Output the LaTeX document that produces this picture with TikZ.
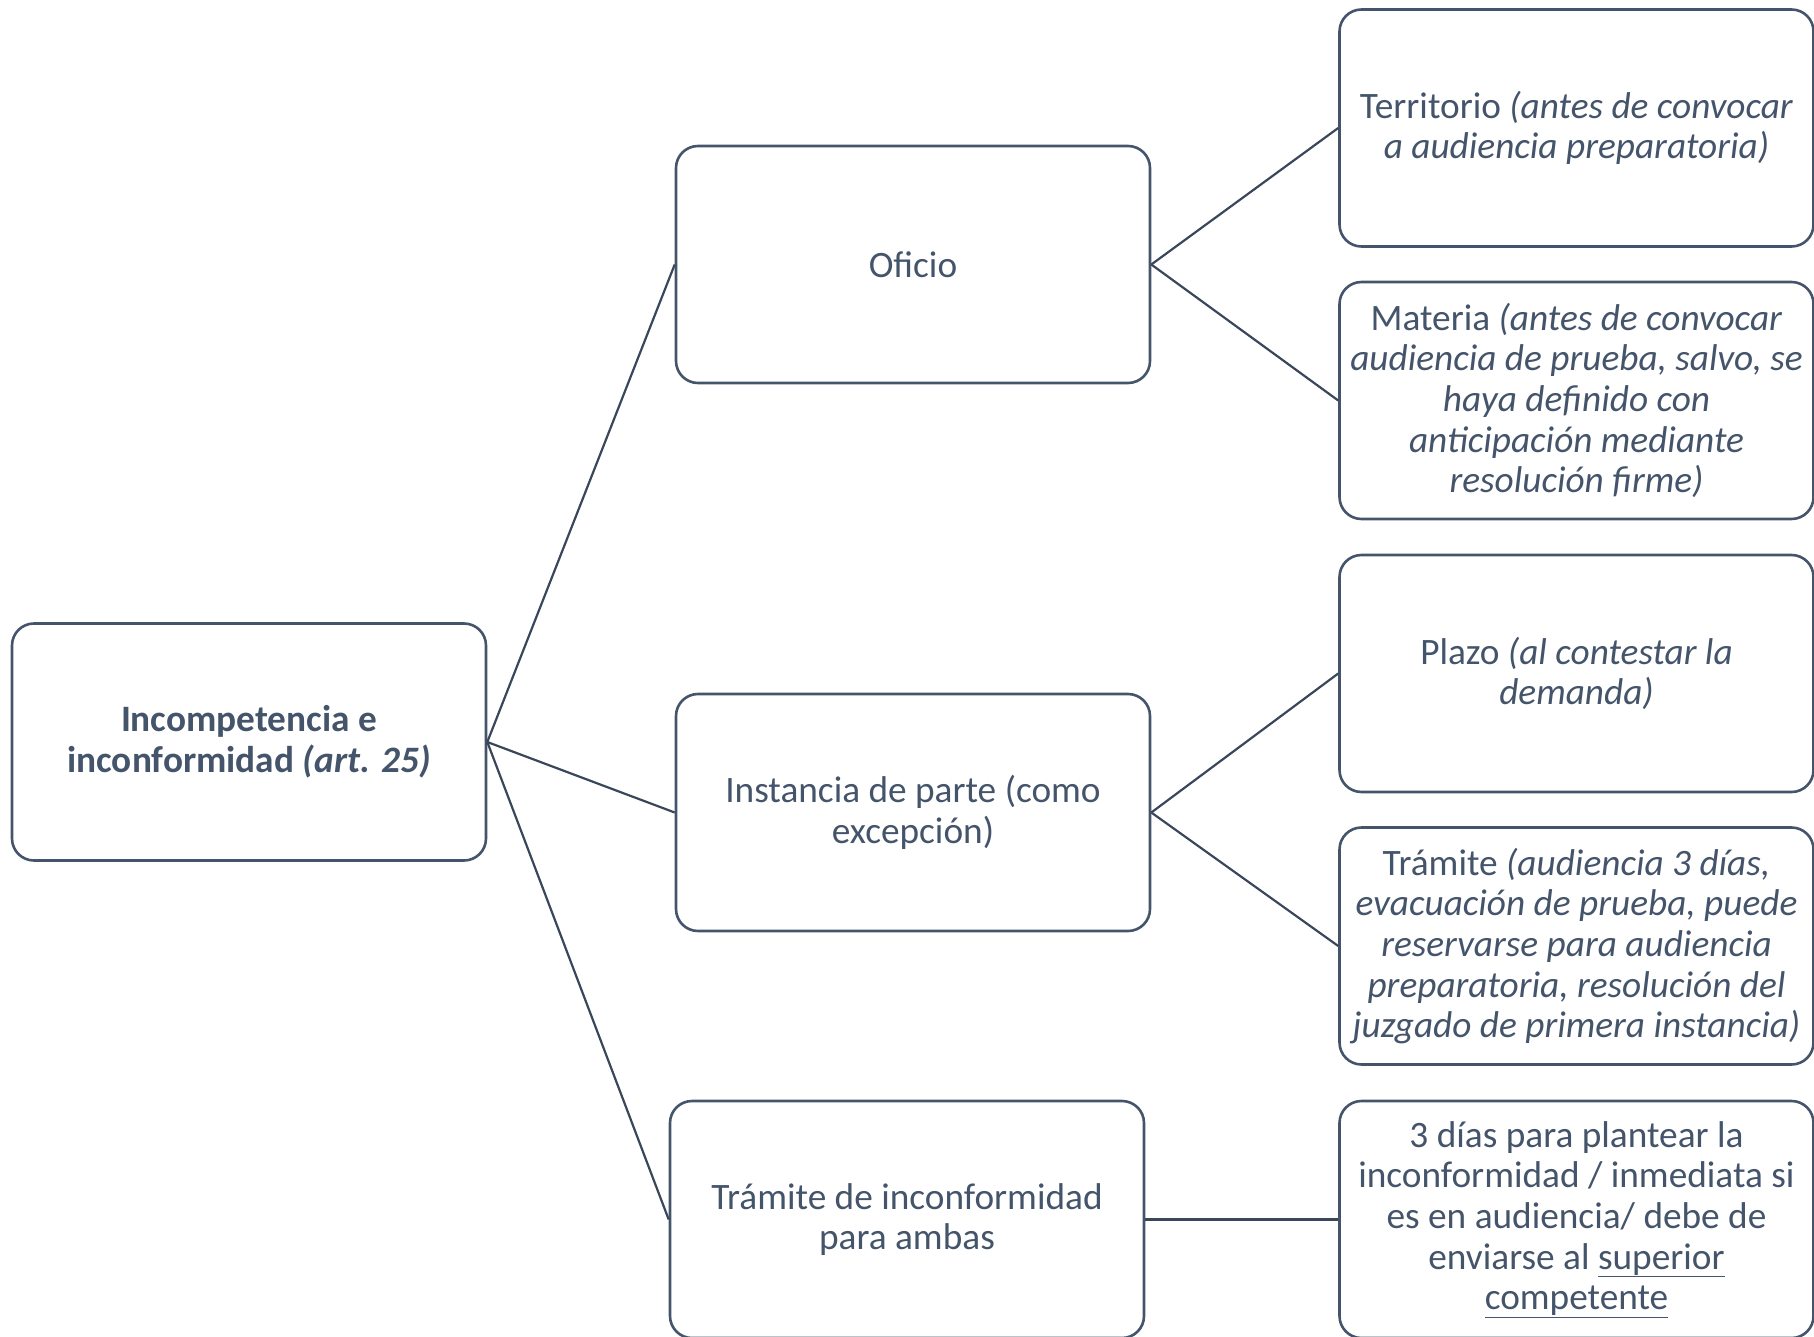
\documentclass[tikz,border=0pt]{standalone}
\usepackage{fontspec}
\setmainfont{Carlito}
\definecolor{slate}{HTML}{44546A}
\begin{document}
\begin{tikzpicture}[x=1pt,y=-1pt,
  box/.style={draw=slate,line width=2.6pt,rounded corners=22pt,minimum width=474pt,minimum height=237pt,
    inner sep=0pt,align=center,text=slate,font=\fontsize{37.3}{40.7}\selectfont},
  link/.style={draw=slate!85!black,line width=2.2pt}]
\useasboundingbox (0,0) rectangle (1814,1337);
\node[box] (root) at (249,742) {\textbf{Incompetencia e}\\\textbf{inconformidad \textit{(art. 25)}}};
\node[box] (oficio) at (913,264.5) {Oficio};
\node[box] (inst) at (913,812.5) {Instancia de parte (como\\excepción)};
\node[box] (tram) at (907,1219.5) {Trámite de inconformidad\\para ambas};
\node[box] (terr) at (1576.5,128) {Territorio \textit{(antes de convocar}\\\textit{a audiencia preparatoria)}};
\node[box] (mat) at (1576.5,400.5) {Materia \textit{(antes de convocar}\\\textit{audiencia de prueba, salvo, se}\\\textit{haya definido con}\\\textit{anticipación mediante}\\\textit{resolución firme)}};
\node[box] (plazo) at (1576.5,673.5) {Plazo \textit{(al contestar la}\\\textit{demanda)}};
\node[box] (tramr) at (1576.5,946) {Trámite \textit{(audiencia 3 días,}\\\textit{evacuación de prueba, puede}\\\textit{reservarse para audiencia}\\\textit{preparatoria, resolución del}\\\textit{juzgado de primera instancia)}};
\node[box] (tres) at (1576.5,1219.5) {3 días para plantear la\\inconformidad / inmediata si\\es en audiencia/ debe de\\enviarse al \underline{superior}\\\underline{competente}};
\draw[link] (root.east) -- (oficio.west);
\draw[link] (root.east) -- (inst.west);
\draw[link] (root.east) -- (tram.west);
\draw[link] (oficio.east) -- (terr.west);
\draw[link] (oficio.east) -- (mat.west);
\draw[link] (inst.east) -- (plazo.west);
\draw[link] (inst.east) -- (tramr.west);
\draw[link] (tram.east) -- (tres.west);
\end{tikzpicture}
\end{document}
